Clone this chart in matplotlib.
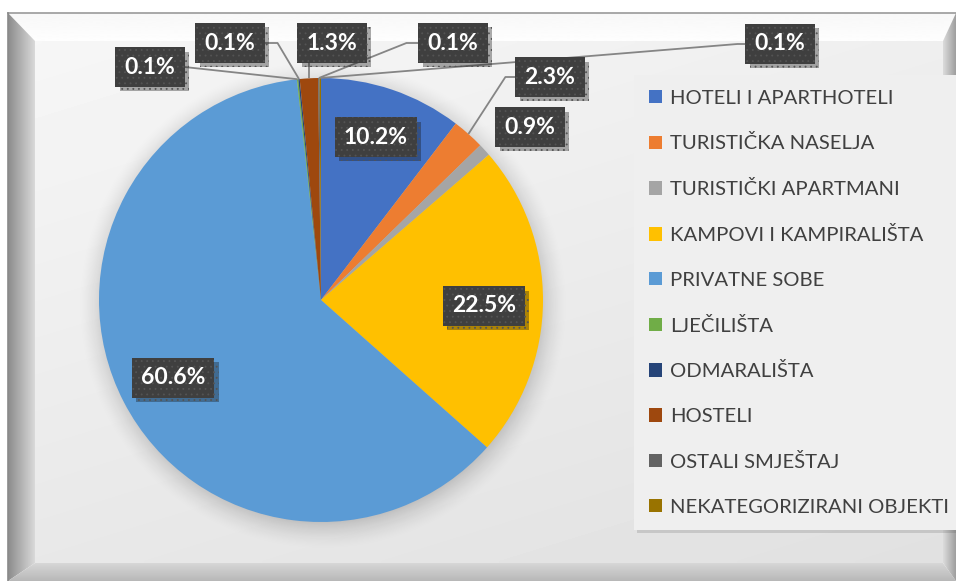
import numpy as np
import matplotlib.pyplot as plt
from matplotlib import patheffects as pe
from matplotlib.patches import Polygon

plt.rcParams['font.family'] = ['Lato', 'DejaVu Sans']
plt.rcParams['hatch.linewidth'] = 0.6

# podaci
categories = ['HOTELI I APARTHOTELI', 'TURISTIČKA NASELJA', 'TURISTIČKI APARTMANI',
              'KAMPOVI I KAMPIRALIŠTA', 'PRIVATNE SOBE', 'LJEČILIŠTA', 'ODMARALIŠTA',
              'HOSTELI', 'OSTALI SMJEŠTAJ', 'NEKATEGORIZIRANI OBJEKTI']
shares = [10.2, 2.3, 0.9, 22.5, 60.6, 0.1, 0.1, 1.3, 0.1, 0.1]
colors = ['#4472C4', '#ED7D31', '#A5A5A5', '#FFC000', '#5B9BD5',
          '#70AD47', '#264478', '#9E480E', '#636363', '#997300']

# položaj oznaka (px) i odakle kreće linija vodilica
label_xy = [(376, 137), (550, 77), (530, 127), (484, 306), (173, 378),
            (150, 67), (230, 43), (332, 43), (453, 43), (780, 44)]
leader = [None, ('left', 10), None, None, None,
          ('right', 0), ('right', 13), ('bottom', 0), ('left', 12), ('left', 8)]

W, H = 956, 581
cx, cy, R = 321, 300, 222

fig = plt.figure(figsize=(W / 100, H / 100), dpi=100)
ax = fig.add_axes([0, 0, 1, 1])

wedges, _ = ax.pie(shares, colors=colors, startangle=-90, counterclock=True,
                   center=(cx, cy), radius=R, wedgeprops=dict(linewidth=0, zorder=3))

ax.set_xlim(0, W)
ax.set_ylim(H, 0)
ax.axis('off')


def grad_fill(poly, v0, v1, horizontal, z=0):
    pts = np.array(poly)
    x0, x1 = pts[:, 0].min(), pts[:, 0].max()
    y0, y1 = pts[:, 1].min(), pts[:, 1].max()
    t = np.linspace(0, 1, 64)
    g = v0 + (v1 - v0) * t
    img = g[None, :] if horizontal else g[:, None]
    im = ax.imshow(img, cmap='gray', vmin=0, vmax=1, extent=(x0, x1, y1, y0),
                   origin='upper', aspect='auto', zorder=z, interpolation='bilinear')
    p = Polygon(poly, closed=True, fc='none', ec='none', transform=ax.transData)
    ax.add_patch(p)
    im.set_clip_path(p)


# okvir s kosim rubovima
L, T, Rr, B = 8, 13, 956, 581
iL, iT, iR, iB = 35, 41, 943, 563
yy, xx = np.mgrid[0:1:120j, 0:1:200j]
bg = 0.965 - 0.085 * (0.65 * yy + 0.35 * xx)
ax.imshow(bg, cmap='gray', vmin=0, vmax=1, extent=(iL, iR, iB, iT), origin='upper',
          aspect='auto', zorder=0, interpolation='bilinear')
grad_fill([(L, T), (Rr, T), (iR, iT), (iL, iT)], 0.97, 0.995, False)
grad_fill([(L, T), (iL, iT), (iL, iB), (L, B)], 0.55, 0.85, True)
grad_fill([(L, B), (iL, iB), (iR, iB), (Rr, B)], 0.84, 0.72, False)
grad_fill([(Rr, T), (iR, iT), (iR, iB), (Rr, B)], 0.86, 0.62, True)
ax.plot([L, Rr], [T, T], color='#9a9a9a', lw=1.2, zorder=1)
ax.plot([L, L], [T, B], color='#8a8a8a', lw=1.2, zorder=1)

# meka sjena oko kruga
sx = np.linspace(cx - R - 50, cx + R + 50, 500)
sy = np.linspace(cy - R - 50, cy + R + 50, 500)
SX, SY = np.meshgrid(sx, sy)
d = np.hypot(SX - (cx + 2), SY - (cy + 5))
sh = np.zeros((500, 500, 4))
sh[..., 3] = np.clip((R + 24 - d) / 34, 0, 1) ** 1.6 * 0.22
ax.imshow(sh, extent=(sx[0], sx[-1], sy[-1], sy[0]), origin='upper',
          aspect='auto', zorder=2)

# legenda
leg = ax.legend(wedges, categories, loc='upper left', bbox_to_anchor=(634, 75),
                bbox_transform=ax.transData, borderaxespad=0, fontsize=14.6,
                frameon=True, fancybox=False, facecolor='#efefef', edgecolor='none',
                framealpha=1, handlelength=0.64, handleheight=0.64, handletextpad=0.4,
                labelspacing=1.37, borderpad=0.72, labelcolor='#404040')
leg.get_frame().set_path_effects([pe.SimplePatchShadow(offset=(2, -2), alpha=0.18), pe.Normal()])
leg.set_zorder(4)

# oznake postotaka
texts = []
for v, (x, y) in zip(shares, label_xy):
    t = ax.text(x, y, f'{v:.1f}%', ha='center', va='center', color='white',
                fontsize=16.5, fontweight='bold', zorder=6,
                bbox=dict(boxstyle='square,pad=0.4', fc='#3f3f3f', ec='#545454',
                          lw=0, hatch='...'))
    t.get_bbox_patch().set_path_effects([pe.SimplePatchShadow(offset=(3, -3), alpha=0.35),
                                         pe.Normal()])
    texts.append(t)

fig.canvas.draw()
inv = ax.transData.inverted()
for w, t, ld in zip(wedges, texts, leader):
    if ld is None:
        continue
    side, elbow = ld
    mid = np.deg2rad((w.theta1 + w.theta2) / 2)
    px, py = w.center[0] + w.r * np.cos(mid), w.center[1] + w.r * np.sin(mid)
    bb = t.get_bbox_patch().get_window_extent()
    (bx0, by1), (bx1, by0) = inv.transform([(bb.x0, bb.y0), (bb.x1, bb.y1)])
    ym = (by0 + by1) / 2
    if side == 'left':
        xs, ys = [bx0, bx0 - elbow, px], [ym, ym, py]
    elif side == 'right':
        xs, ys = [bx1, bx1 + elbow, px], [ym, ym, py]
    else:
        xs, ys = [px, px], [by1, py]
    ax.plot(xs, ys, color='#858585', lw=1.3, zorder=5, solid_capstyle='butt')

fig.savefig('out.png', dpi=100)
